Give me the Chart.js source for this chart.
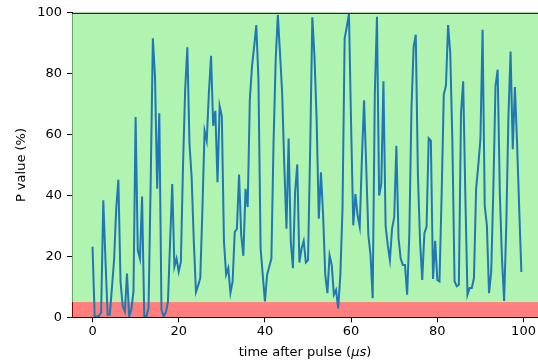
<!DOCTYPE html>
<html>
<head>
<meta charset="utf-8">
<script src="https://cdn.jsdelivr.net/npm/chart.js@4/dist/chart.umd.min.js"></script>
<style>
  html, body { margin: 0; padding: 0; background: #fff; }
  #wrap { width: 538px; height: 362px; }
</style>
</head>
<body>
<div id="wrap"><canvas id="pChart" width="538" height="362"></canvas></div>
<script>
// time grid (µs): one sample every half microsecond, 0 .. 99.5
const timeStep = 0.5;
const sampleCount = 200;

// P value (%), one per sample
const pValues = [
  23.2, 0.3, 0.3, 0.5, 1.5, 38.4, 19, 0.8, 0.8, 9.6,
  18.8, 35.6, 45.2, 11.7, 3.6, 1.9, 14.4, 0.3, 2.5, 8.4,
  65.8, 22, 19.3, 39.7, 0.3, 0.3, 3, 45, 91.6, 79,
  42.2, 67, 2.5, 0.3, 1.5, 5.1, 24.8, 43.8, 16.6, 19.3,
  15, 18.2, 50, 75, 88.7, 57, 46, 25, 8.3, 10.4,
  12.9, 35.6, 61.2, 58, 73.7, 85.9, 62.9, 67.8, 44.4, 69.4,
  66.1, 24.8, 14, 16.2, 8, 11.7, 28, 29, 46.9, 27,
  20.2, 42.2, 36.2, 71.5, 82.4, 88.9, 96, 78.1, 22.6, 13.9,
  5.2, 13.9, 16.6, 19.3, 57.4, 84.6, 99.3, 86.8, 73.7, 49.8,
  29.1, 58.7, 24.8, 16.1, 41.1, 50.2, 18, 22.6, 25.1, 18,
  18.8, 55.2, 98.5, 85.7, 65, 32.4, 47.6, 33.5, 13.9, 7.9,
  20.4, 17.2, 7.4, 9, 2.9, 13.9, 35.6, 91.6, 95.4, 99.6,
  62.9, 30.2, 40.5, 33.5, 29.7, 52, 71.3, 49.8, 27, 20.4,
  6.3, 73.7, 98.7, 40, 43.8, 77.5, 30, 23.7, 18.8, 29.1,
  32.9, 56.3, 26, 19.3, 17.2, 17.2, 7.4, 27, 68.3, 88.9,
  92.8, 46.5, 24.8, 12.3, 27.6, 29.7, 58.8, 58, 12.6, 25.1,
  12.3, 11.8, 40, 73.2, 76.1, 96, 86.8, 57.4, 11.8, 10.2,
  10.7, 67.2, 77.5, 40, 7.4, 9.6, 9.6, 12.9, 42.2, 49.8,
  58.5, 94.4, 36.7, 30.2, 7.9, 14.9, 42.2, 75.9, 81.3, 41.1,
  19.3, 5.4, 30.2, 66.1, 87.3, 55.2, 75.6, 57.4, 35.6, 14.9
];

// tick labels
const xTicks = [0, 20, 40, 60, 80, 100];
const yTicks = [0, 20, 40, 60, 80, 100];

// significance threshold (%) and the top of the range
const threshold = 5;
const yTop = 100;

const times = Array.from({length: sampleCount}, (_, i) => i * timeStep);
const points = times.map((t, i) => ({x: t, y: pValues[i]}));

const FONT = 'DejaVu Sans';

// coloured bands behind the line + top spine + axis titles
const bandsPlugin = {
  id: 'bands',
  beforeDraw(chart) {
    const c = chart.ctx;
    c.save();
    c.fillStyle = '#ffffff';
    c.fillRect(0, 0, chart.width, chart.height);
    c.restore();
  },
  beforeDatasetsDraw(chart) {
    const {ctx, chartArea: a, scales: {y}} = chart;
    const yThr = y.getPixelForValue(threshold);
    const yMax = y.getPixelForValue(yTop);
    const y0 = y.getPixelForValue(0);
    ctx.save();
    ctx.fillStyle = 'rgba(144,238,144,0.7)';
    ctx.fillRect(a.left, yMax, a.right - a.left, yThr - yMax);
    ctx.fillStyle = 'rgba(255,0,0,0.5)';
    ctx.fillRect(a.left, yThr, a.right - a.left, y0 - yThr);
    ctx.restore();
  },
  afterDraw(chart) {
    const {ctx, chartArea: a} = chart;
    ctx.save();
    // top spine
    ctx.strokeStyle = '#000';
    ctx.lineWidth = 1;
    ctx.beginPath();
    ctx.moveTo(a.left, a.top + 0.5);
    ctx.lineTo(a.right, a.top + 0.5);
    ctx.stroke();

    ctx.fillStyle = '#000';
    ctx.textBaseline = 'alphabetic';
    // x title with italic µs
    const partA = 'time after pulse (';
    const partB = 'μs';
    const partC = ')';
    const normal = '13px "' + FONT + '"';
    const italic = 'italic 13px "' + FONT + '"';
    ctx.font = normal;
    const wA = ctx.measureText(partA).width;
    const wC = ctx.measureText(partC).width;
    ctx.font = italic;
    const wB = ctx.measureText(partB).width;
    let x = (a.left + a.right) / 2 - (wA + wB + wC) / 2;
    const yb = 355.5;
    ctx.textAlign = 'left';
    ctx.font = normal;
    ctx.fillText(partA, x, yb);
    x += wA;
    ctx.font = italic;
    ctx.fillText(partB, x, yb);
    x += wB;
    ctx.font = normal;
    ctx.fillText(partC, x, yb);

    // y title
    ctx.translate(25, (a.top + a.bottom) / 2);
    ctx.rotate(-Math.PI / 2);
    ctx.textAlign = 'center';
    ctx.font = normal;
    ctx.fillText('P value (%)', 0, 0);
    ctx.restore();
  }
};

const ctx = document.getElementById('pChart').getContext('2d');
new Chart(ctx, {
  type: 'line',
  data: {
    datasets: [{
      label: 'P value',
      data: points,
      borderColor: '#1f77b4',
      borderWidth: 2,
      pointRadius: 0,
      tension: 0,
      fill: false
    }]
  },
  options: {
    responsive: false,
    animation: false,
    devicePixelRatio: 1,
    layout: {padding: {top: 11, right: 0, left: 0, bottom: 0}},
    plugins: {legend: {display: false}, tooltip: {enabled: false}},
    scales: {
      x: {
        type: 'linear',
        min: -4.76,
        max: 103.36,
        afterFit(s) { s.height = 44.7; },
        afterBuildTicks(s) { s.ticks = xTicks.map(v => ({value: v})); },
        ticks: {
          includeBounds: false,
          color: '#000',
          padding: 2,
          maxRotation: 0,
          font: {family: FONT, size: 13}
        },
        grid: {drawOnChartArea: false, drawTicks: true, tickLength: 5, tickColor: '#000', tickWidth: 1},
        border: {display: true, color: '#000', width: 1}
      },
      y: {
        type: 'linear',
        min: 0,
        max: yTop,
        afterFit(s) { s.width = 72; },
        afterBuildTicks(s) { s.ticks = yTicks.map(v => ({value: v})); },
        ticks: {
          includeBounds: false,
          color: '#000',
          padding: 5,
          font: {family: FONT, size: 13}
        },
        grid: {drawOnChartArea: false, drawTicks: true, tickLength: 5, tickColor: '#000', tickWidth: 1},
        border: {display: true, color: '#000', width: 1}
      }
    }
  },
  plugins: [bandsPlugin]
});
</script>
</body>
</html>
